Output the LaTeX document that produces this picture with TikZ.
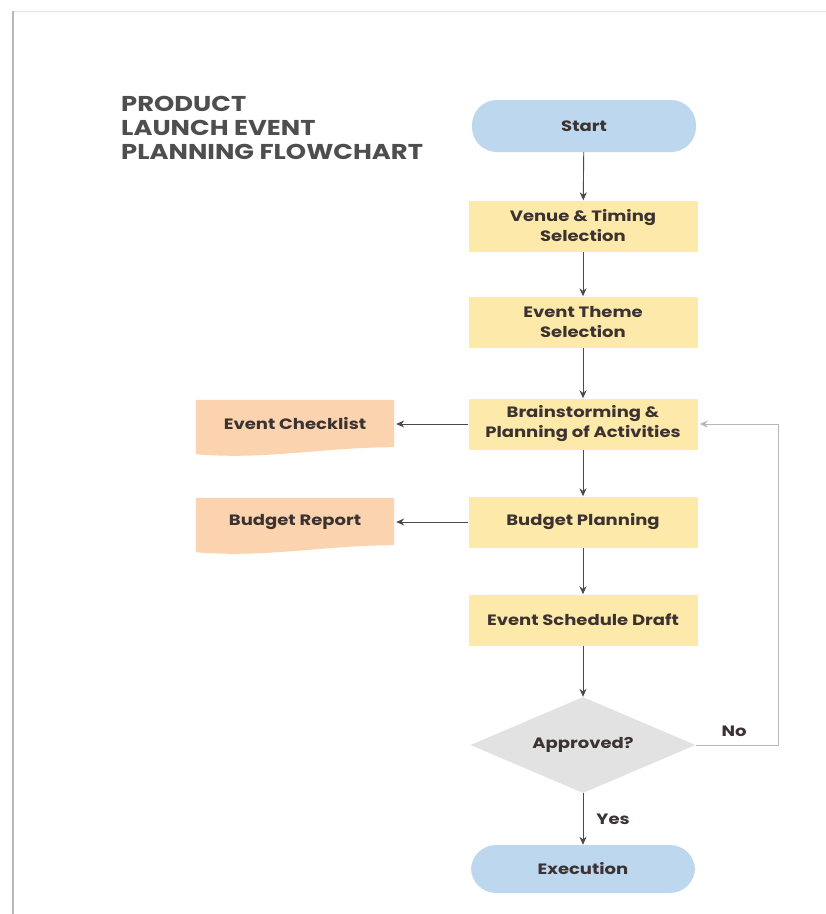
\documentclass[tikz,border=0pt]{standalone}
\usepackage{fontspec}
\setmainfont{Poppins}[FakeStretch=1.2]
\usetikzlibrary{shapes.geometric}
\usetikzlibrary{positioning}
\usetikzlibrary{arrows.meta, calc}
\usetikzlibrary{backgrounds}

\definecolor{pillblue}{HTML}{BDD7EE}
\definecolor{stepyellow}{HTML}{FDE9A9}
\definecolor{docpeach}{HTML}{FBD3AE}
\definecolor{decgray}{HTML}{E2E2E2}
\definecolor{txtdark}{HTML}{3B3232}
\definecolor{titlegray}{HTML}{4E4E4E}
\definecolor{linegray}{HTML}{4A4A4A}

\begin{document}
\begin{tikzpicture}
  [
    x=1pt, y=-1pt,
    >={Stealth[length=8pt,width=7pt]},
    every node/.style = {font=\bfseries\fontsize{15}{20}\selectfont, text=txtdark, align=center, inner sep=0pt},
    pill/.style     = {rectangle, rounded corners=25pt, fill=pillblue, minimum width=224pt, minimum height=50pt},
    stepbox/.style  = {rectangle, fill=stepyellow, minimum width=229pt, minimum height=51pt},
    decision/.style = {diamond, fill=decgray, minimum width=225pt, minimum height=96pt, aspect=2.3},
    docbox/.style   = {rectangle, minimum width=198pt, minimum height=48pt},
    flow/.style     = {draw=linegray, line width=0.9pt, ->},
    loopback/.style = {draw=linegray!40, line width=0.9pt, ->, shorten >=2pt},
  ]

  \useasboundingbox (0,0) rectangle (826,914);

  % title
  \node (title) at (121,96) [anchor=north west, align=left, text=titlegray,
    font=\bfseries\fontsize{21.5}{24}\selectfont] {PRODUCT\\LAUNCH EVENT\\PLANNING FLOWCHART};

  % main column
  \node (start)    at (584,126) [pill, minimum height=52pt] {Start};
  \node (venue)    at (583,226) [stepbox] {Venue \& Timing\\Selection};
  \node (theme)    at (583,322) [stepbox] {Event Theme\\Selection};
  \node (brain)    at (583,424) [stepbox] {Brainstorming \&\\Planning of Activities};
  \node (budget)   at (583,522) [stepbox] {Budget Planning};
  \node (draft)    at (583,620) [stepbox] {Event Schedule Draft};
  \node (approved) at (583,745) [decision] {Approved?};
  \node (exec)     at (583,869) [pill, minimum height=48pt] {Execution};

  % side documents
  \node (checklist) at (295,424) [docbox] {Event Checklist};
  \node (report)    at (295,522) [docbox] {Budget Report};

  \begin{scope}[on background layer]
    % the page
    \fill[white] (0,0) rectangle (826,914);
    \draw[gray!20] (13,11) -- (826,11);
    \draw[gray!55, line width=2pt] (13,914) -- (13,11);
    \foreach \doc in {checklist, report}
      {
        \fill[docpeach] (\doc.north west) -- (\doc.north east)
          -- ($(\doc.south east)+(0,-1)$)
          .. controls ($(\doc.south east)+(-70,-1)$) and ($(\doc.south west)+(70,12)$)
          .. ($(\doc.south west)+(0,6)$) -- cycle;
      }
  \end{scope}

  % connectors
  \draw[flow] (start) -- (venue);
  \draw[flow] (venue) -- (theme);
  \draw[flow] (theme) -- (brain);
  \draw[flow] (brain) -- (budget);
  \draw[flow] (budget) -- (draft);
  \draw[flow] (draft) -- (approved);
  \draw[flow] (approved) -- node (yes) [right=13pt] {Yes} (exec);
  \draw[flow, shorten >=2pt] (brain) -- (checklist);
  \draw[flow, shorten >=2pt] (budget) -- (report);

  \coordinate (loopcorner) at (778,745);
  \draw[loopback] (approved.east) -- (loopcorner) -- (loopcorner |- brain.east) -- (brain.east);
  \node (no) at (734,731) {No};

\end{tikzpicture}
\end{document}
